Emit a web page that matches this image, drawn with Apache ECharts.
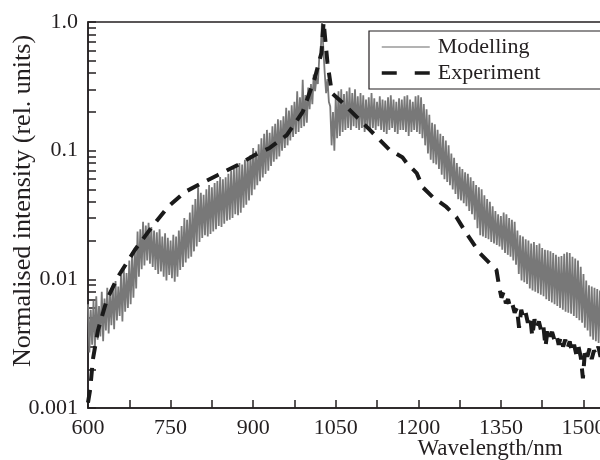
<!DOCTYPE html>
<html>
<head>
<meta charset="utf-8">
<script src="https://cdn.jsdelivr.net/npm/echarts@6/dist/echarts.min.js"></script>
<style>
html,body{margin:0;padding:0;background:#fff;}
#chart{width:600px;height:460px;}
</style>
</head>
<body>
<div id="chart"></div>
<script>
// ---- data ----
var xTickLabels = [600, 750, 900, 1050, 1200, 1350, 1500];
var yTickLabels = [0.001, 0.01, 0.1, 1];
var yMinorTicks = [0.001,0.002,0.003,0.004,0.005,0.006,0.007,0.008,0.009,
                   0.01,0.02,0.03,0.04,0.05,0.06,0.07,0.08,0.09,
                   0.1,0.2,0.3,0.4,0.5,0.6,0.7,0.8,0.9,1];

// Modelling: sampled every 2.5 nm starting at 600 nm
var modelStart = 600;
var modelStep = 2.5;
var modelValues = [
  .0064,.0027,.0058,.0031,.0068,.0029,.0074,.0034,.0062,.0036, // 600
  .0080,.0033,.0071,.0040,.0086,.0038,.0079,.0044,.0090,.0041, // 625
  .0097,.0048,.0088,.0052,.0108,.0047,.0120,.0056,.0112,.0060, // 650
  .0140,.0064,.0152,.0072,.0170,.0085,.0235,.0105,.0245,.0120, // 675
  .0280,.0128,.0262,.0140,.0275,.0132,.0255,.0125,.0240,.0118, // 700
  .0232,.0110,.0245,.0115,.0215,.0105,.0228,.0098,.0210,.0108, // 725
  .0200,.0102,.0222,.0096,.0215,.0105,.0240,.0118,.0260,.0125, // 750
  .0300,.0135,.0290,.0145,.0330,.0150,.0380,.0165,.0420,.0180, // 775
  .0520,.0195,.0470,.0210,.0455,.0220,.0500,.0215,.0540,.0225, // 800
  .0520,.0235,.0560,.0245,.0580,.0260,.0625,.0255,.0600,.0270, // 825
  .0620,.0285,.0660,.0290,.0700,.0300,.0720,.0320,.0760,.0315, // 850
  .0800,.0330,.0780,.0360,.0850,.0380,.0880,.0410,.0920,.0450, // 875
  .1050,.0500,.1000,.0540,.1120,.0580,.1250,.0620,.1350,.0660, // 900
  .1450,.0700,.1380,.0760,.1550,.0820,.1620,.0860,.1750,.0900, // 925
  .1720,.1000,.1850,.1050,.2150,.1100,.2050,.1200,.2250,.1280, // 950
  .2400,.1350,.2900,.1400,.2600,.1500,.3550,.1550,.2700,.1650, // 975
  .3100,.2100,.3300,.2300,.3900,.2900,.3700,.3300,.5200,.5600, // 1000
  1.000,.6200,.4000,.2800,.3600,.2400,.2200,.1100,.2000,.1000, // 1025
  .2600,.1250,.2900,.1300,.3000,.1400,.2750,.1450,.2900,.1500, // 1050
  .3100,.1450,.2800,.1550,.3000,.1500,.2650,.1450,.2800,.1500, // 1075
  .2700,.1400,.2500,.1500,.2600,.1450,.2800,.1500,.2550,.1450, // 1100
  .2400,.1550,.2650,.1450,.2500,.1400,.2450,.1350,.2600,.1450, // 1125
  .2700,.1500,.2500,.1400,.2400,.1350,.2550,.1450,.2500,.1450, // 1150
  .2650,.1400,.2700,.1300,.2500,.1400,.2400,.1450,.2650,.1400, // 1175
  .2700,.1350,.2600,.1250,.2300,.1100,.2100,.0950,.1900,.0850, // 1200
  .1650,.0800,.1600,.0780,.1450,.0720,.1350,.0650,.1300,.0600, // 1225
  .1200,.0570,.1100,.0540,.0950,.0500,.0880,.0460,.0800,.0420, // 1250
  .0750,.0410,.0720,.0390,.0680,.0370,.0660,.0340,.0620,.0320, // 1275
  .0580,.0290,.0540,.0250,.0520,.0220,.0500,.0215,.0450,.0210, // 1300
  .0420,.0205,.0400,.0195,.0370,.0190,.0340,.0185,.0320,.0180, // 1325
  .0310,.0170,.0330,.0160,.0320,.0155,.0300,.0150,.0290,.0140, // 1350
  .0280,.0130,.0240,.0110,.0220,.0098,.0215,.0095,.0205,.0092, // 1375
  .0200,.0085,.0190,.0082,.0195,.0080,.0185,.0078,.0190,.0076, // 1400
  .0175,.0074,.0170,.0070,.0168,.0068,.0165,.0066,.0160,.0064, // 1425
  .0155,.0062,.0150,.0060,.0152,.0058,.0158,.0056,.0162,.0055, // 1450
  .0160,.0054,.0150,.0052,.0145,.0050,.0140,.0048,.0125,.0046, // 1475
  .0110,.0042,.0098,.0040,.0090,.0036,.0088,.0034,.0086,.0033, // 1500
  .0084,.0032,.0082,.0031,.0080,.0030,.0082                    // 1525-1540
];

// Experiment
var expWavelength = [600,604,609,618,634,654,685,716,745,776,807,836,872,903,930,961,990,1012,1024,1028,
  1035,1043,1061,1088,1112,1148,1171,1179,1197,1208,1226,1251,1269,1287,1311,1342,
  1347,1351,1355,1359,1363,1367,1371,1375,1379,1383,1387,1391,1395,1399,1403,1407,1411,1415,1419,1423,
  1427,1431,1435,1439,1443,1447,1451,1455,1459,1463,1467,1471,1475,1479,1483,1487,1491,1495,1499,1503,
  1507,1511,1515,1519,1523,1527,1531,1535];
var expValues = [0.0011,0.0014,0.0024,0.0040,0.0069,0.0104,0.0169,0.0255,0.0365,0.0477,0.056,0.0647,0.0774,0.0925,0.105,0.132,0.20,0.367,0.574,1.0,
  0.48,0.28,0.239,0.183,0.145,0.101,0.089,0.080,0.067,0.052,0.0436,0.0365,0.0305,0.0229,0.0161,0.0118,
  0.0087,0.0072,0.0080,0.0065,0.0070,0.0060,0.0064,0.0055,0.0060,0.0042,0.0058,0.0050,0.0055,0.0046,0.0052,0.0036,0.0049,0.0042,0.0047,0.0040,
  0.0044,0.0030,0.0041,0.0036,0.0039,0.0034,0.0037,0.0031,0.0036,0.0030,0.0034,0.0029,0.0033,0.0027,0.0031,0.0026,0.0030,0.0025,0.0017,0.0029,
  0.0025,0.0029,0.0024,0.0028,0.0026,0.0030,0.0025,0.0028];

// ---- build series data ----
var modelData = modelValues.map(function (v, i) { return [modelStart + i * modelStep, v]; });
var expData = expValues.map(function (v, i) { return [expWavelength[i], v]; });

var FONT = '"Liberation Serif", "Times New Roman", serif';
var INK = '#231f20';

var chart = echarts.init(document.getElementById('chart'), null, {renderer: 'canvas'});
chart.setOption({
  animation: false,
  backgroundColor: '#ffffff',
  grid: {left: 88, top: 22, width: 523, height: 386, outerBoundsMode: 'none', containLabel: false,
         show: true, borderColor: INK, borderWidth: 1.5, backgroundColor: 'transparent'},
  xAxis: {
    type: 'value', min: 600, max: 1550, interval: 75,
    axisLine: {show: true, lineStyle: {color: INK, width: 1.5}},
    axisTick: {show: true, inside: true, length: 8, lineStyle: {color: INK, width: 1.5}},
    splitLine: {show: false},
    axisLabel: {
      margin: 9, color: INK, fontFamily: FONT, fontSize: 22, showMaxLabel: false,
      formatter: function (v) { return xTickLabels.indexOf(v) >= 0 ? String(v) : ''; }
    }
  },
  yAxis: {
    type: 'log', logBase: 10, min: 0.001, max: 1,
    axisLine: {show: true, lineStyle: {color: INK, width: 1.5}},
    axisTick: {show: true, inside: true, length: 8, lineStyle: {color: INK, width: 1.5}, customValues: yMinorTicks},
    splitLine: {show: false},
    minorTick: {show: false},
    axisLabel: {
      margin: 10, color: INK, fontFamily: FONT, fontSize: 22, customValues: yTickLabels,
      formatter: function (v) {
        if (v >= 0.999) return '1.0';
        if (Math.abs(v - 0.1) < 1e-9) return '0.1';
        if (Math.abs(v - 0.01) < 1e-9) return '0.01';
        return '0.001';
      }
    }
  },
  legend: {
    orient: 'vertical', left: 369, top: 31,
    padding: [5, 120, 5, 11],
    itemWidth: 48, itemHeight: 14, itemGap: 4,
    borderColor: INK, borderWidth: 1.2, borderRadius: 0,
    textStyle: {color: INK, fontFamily: FONT, fontSize: 22, padding: [0, 0, 0, 3]},
    data: [
      {name: 'Modelling', lineStyle: {color: '#9a9a9a', width: 1.5},
       itemStyle: {color: 'rgba(0,0,0,0)', borderWidth: 0, opacity: 0}},
      {name: 'Experiment', lineStyle: {color: '#1a1a1a', width: 3.5, type: [15, 18]},
       itemStyle: {color: 'rgba(0,0,0,0)', borderWidth: 0, opacity: 0}}
    ]
  },
  graphic: [
    {
      type: 'text', x: 490, y: 449,
      style: {text: 'Wavelength/nm', fill: INK, font: '23px ' + FONT, textAlign: 'center', textVerticalAlign: 'middle'}
    },
    {
      type: 'text', x: 23, y: 201, rotation: Math.PI / 2,
      style: {text: 'Normalised intensity (rel. units)', fill: INK, font: '26px ' + FONT, textAlign: 'center', textVerticalAlign: 'middle'}
    }
  ],
  series: [
    {
      name: 'Modelling', type: 'line', data: modelData, symbol: 'none', clip: true,
      lineStyle: {color: '#787878', width: 1.8}, itemStyle: {color: '#787878'}, z: 2
    },
    {
      name: 'Experiment', type: 'line', data: expData, symbol: 'none', clip: true,
      lineStyle: {color: '#1a1a1a', width: 4, type: [13, 9], cap: 'butt'}, itemStyle: {color: '#1a1a1a'}, z: 3
    }
  ]
});
</script>
</body>
</html>
